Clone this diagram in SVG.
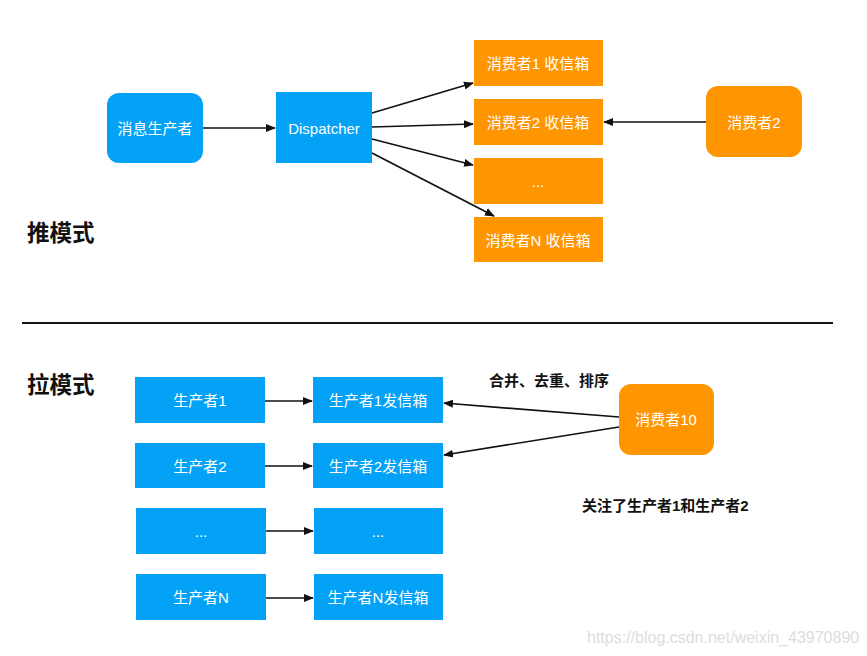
<svg xmlns="http://www.w3.org/2000/svg" width="867" height="656" viewBox="0 0 867 656">
<style>
.b{fill:#04A2F7}
.o{fill:#FF9500}
.t{font-family:"Liberation Sans","Noto Sans CJK SC",sans-serif;font-size:15px;fill:#fff;text-anchor:middle;dominant-baseline:central}
.h{font-family:"Liberation Sans","Noto Sans CJK SC",sans-serif;font-size:22.5px;font-weight:bold;fill:#111}
.l{font-family:"Liberation Sans","Noto Sans CJK SC",sans-serif;font-size:15px;font-weight:bold;fill:#111;dominant-baseline:central}
.c{stroke:#111;stroke-width:1.7;fill:none;marker-end:url(#a)}
</style>
<defs>
<marker id="a" viewBox="0 0 10 10" refX="9" refY="5" markerWidth="10" markerHeight="10" markerUnits="userSpaceOnUse" orient="auto">
<path d="M0,1 L10,5 L0,9 Z" fill="#111"/>
</marker>
</defs>
<rect width="867" height="656" fill="#fff"/>
<text class="h" x="27" y="241">推模式</text>
<text class="h" x="27" y="393">拉模式</text>
<line x1="22" y1="323" x2="833" y2="323" stroke="#111" stroke-width="2"/>
<g id="connectors">
<line class="c" x1="203" y1="128" x2="275" y2="128"/>
<line class="c" x1="372" y1="113" x2="473" y2="83"/>
<line class="c" x1="372" y1="127" x2="473" y2="124"/>
<line class="c" x1="372" y1="139" x2="473" y2="165"/>
<line class="c" x1="372" y1="153" x2="494" y2="216"/>
<line class="c" x1="706" y1="122" x2="604" y2="122"/>
<line class="c" x1="265" y1="401" x2="312" y2="401"/>
<line class="c" x1="265" y1="466" x2="312" y2="466"/>
<line class="c" x1="266" y1="531" x2="313" y2="531"/>
<line class="c" x1="266" y1="598" x2="313" y2="598"/>
<line class="c" x1="619" y1="417" x2="444" y2="403"/>
<line class="c" x1="619" y1="427" x2="444" y2="455"/>
</g>
<g id="producer"><rect class="b" x="107" y="93" width="96" height="70" rx="12"/><text class="t" x="155" y="128">消息生产者</text></g>
<g id="dispatcher"><rect class="b" x="276" y="92" width="96" height="71"/><text class="t" x="324" y="128">Dispatcher</text></g>
<g id="inbox1"><rect class="o" x="474" y="40" width="129" height="46"/><text class="t" x="538" y="63">消费者1 收信箱</text></g>
<g id="inbox2"><rect class="o" x="474" y="99" width="129" height="46"/><text class="t" x="538" y="122">消费者2 收信箱</text></g>
<g id="inbox3"><rect class="o" x="474" y="158" width="129" height="46"/><text class="t" x="538" y="181">...</text></g>
<g id="inboxN"><rect class="o" x="474" y="217" width="129" height="45"/><text class="t" x="538" y="240">消费者N 收信箱</text></g>
<g id="consumer2"><rect class="o" x="706" y="86" width="96" height="71" rx="12"/><text class="t" x="754" y="122">消费者2</text></g>
<g id="p1"><rect class="b" x="135" y="377" width="130" height="46"/><text class="t" x="200" y="400">生产者1</text></g>
<g id="p2"><rect class="b" x="135" y="443" width="130" height="45"/><text class="t" x="200" y="466">生产者2</text></g>
<g id="p3"><rect class="b" x="136" y="508" width="130" height="46"/><text class="t" x="201" y="531">...</text></g>
<g id="pN"><rect class="b" x="136" y="574" width="130" height="46"/><text class="t" x="201" y="597">生产者N</text></g>
<g id="o1"><rect class="b" x="313" y="377" width="130" height="46"/><text class="t" x="378" y="400">生产者1发信箱</text></g>
<g id="o2"><rect class="b" x="313" y="443" width="130" height="45"/><text class="t" x="378" y="466">生产者2发信箱</text></g>
<g id="o3"><rect class="b" x="314" y="508" width="129" height="46"/><text class="t" x="378" y="531">...</text></g>
<g id="oN"><rect class="b" x="314" y="574" width="129" height="46"/><text class="t" x="378" y="597">生产者N发信箱</text></g>
<g id="consumer10"><rect class="o" x="619" y="384" width="95" height="71" rx="12"/><text class="t" x="666" y="419">消费者10</text></g>
<text class="l" x="489" y="380">合并、去重、排序</text>
<text class="l" x="582" y="505">关注了生产者1和生产者2</text>
<text x="587" y="637" font-family="Liberation Sans,sans-serif" font-size="16" fill="#ddd" dominant-baseline="central">https://blog.csdn.net/weixin_43970890</text>
</svg>
